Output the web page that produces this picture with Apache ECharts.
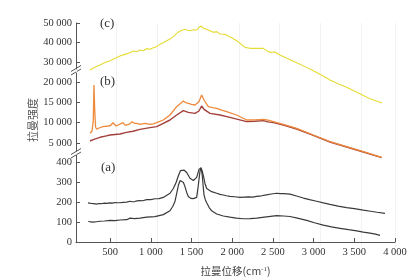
<!DOCTYPE html>
<html><head><meta charset="utf-8">
<script src="https://cdn.jsdelivr.net/npm/echarts@6/dist/echarts.min.js"></script>
<style>html,body{margin:0;padding:0;background:#fff}#c{width:413px;height:279px}</style>
</head><body><div id="c"></div>
<script>
// ---- data (Raman shift cm-1 / intensity) ----
const xTicks = [500,1000,1500,2000,2500,3000,3500,4000];
const yTicksC = [30000,40000,50000];
const yTicksB = [5000,10000,15000,20000];
const yTicksA = [0,100,200,300,400];

const shiftC = [252,300,375,430,498,560,621,680,744,785,826,866,907,948,989,1030,1071,1112,1153,1194,1235,1276,1317,1358,1419,1450,1481,1520,1563,1591,1616,1645,1675,1706,1740,1768,1809,1850,1911,1972,2054,2110,2157,2218,2300,2382,2423,2464,2525,2587,2690,2792,2900,2996,3100,3201,3300,3406,3550,3693,3840];
const intensityC = [25900,27000,28460,29600,30670,31900,33080,33900,34790,35640,35300,36150,35810,36840,36500,37350,37860,39060,39920,40940,41800,43000,44700,45900,46750,46300,46070,46500,46410,47780,48460,47260,46900,46410,45800,45210,45560,44360,44190,42990,40940,39100,37520,37010,37050,37010,35810,34960,35130,33590,31600,29660,27500,25555,23200,20770,18900,17010,14100,11200,8970];

const shiftB1 = [252,277,292,301,310,320,334,370,412,473,505,535,572,596,658,680,707,740,768,800,830,867,928,989,1030,1071,1153,1235,1317,1399,1430,1460,1500,1542,1591,1624,1653,1706,1760,1809,1870,1931,2054,2177,2280,2382,2440,2505,2628,2792,2996,3201,3406,3611,3836];
const intensityB1 = [7385,7950,10500,19260,13115,8934,8370,8750,9008,9180,9300,9992,9180,9426,9992,9400,9426,9700,10238,9850,9844,9590,9836,9590,9700,10000,10656,11885,13935,15328,14900,14754,14500,14344,15164,16803,15574,13935,13700,13525,13100,12705,11885,10656,10700,10820,10600,10246,9590,8606,6967,5328,4098,2868,1475];

const shiftB2 = [252,300,375,440,498,560,621,700,780,867,989,1071,1153,1235,1317,1399,1460,1542,1591,1624,1653,1727,1850,1972,2177,2280,2382,2440,2505,2628,2792,2996,3201,3406,3611,3836];
const intensityB2 = [5492,5900,6402,6700,6967,7100,7213,7600,7900,8360,8770,9016,9836,10656,11885,12951,12541,12295,12869,14098,13279,12295,11885,11311,10246,10350,10492,10200,9999,9426,8443,6885,5246,4016,2786,1393];

const shiftA1 = [227,250,270,300,330,360,390,430,460,498,530,560,590,620,660,703,744,770,800,830,866,900,948,1000,1050,1100,1153,1235,1276,1310,1338,1365,1387,1410,1440,1481,1522,1545,1563,1580,1591,1616,1630,1645,1665,1686,1747,1809,1850,1890,1930,1972,2030,2095,2150,2200,2250,2300,2360,2420,2480,2546,2590,2630,2670,2710,2790,2874,2950,3037,3120,3201,3300,3406,3500,3611,3700,3780,3877];
const intensityA1 = [197.6,196,194,193,191,194,193,196,195,197.6,196,199,198,198,200,201,205.6,203,204,207,208.7,208,213.6,214,218,219,224.9,245.8,269.8,300,334.1,360,369.4,362,350.2,321.2,310,313,326,350,366.2,374.3,358,334.1,295,269.8,253.8,245.8,240,237,233,229.7,228,224.9,226,227,226,229.7,233,238,242,245.8,244,244,243,241,232,221.6,214,205.6,197,189.5,181,173.5,168,160.6,155,150,144.5];

const shiftA2 = [231,260,293,330,375,430,498,560,620,703,744,800,866,948,1050,1153,1235,1270,1297,1320,1338,1360,1379,1400,1420,1440,1460,1490,1522,1563,1583,1604,1616,1625,1632,1642,1653,1670,1686,1715,1747,1809,1890,1972,2050,2136,2220,2300,2420,2546,2630,2710,2800,2915,3010,3119,3220,3324,3430,3529,3610,3693,3760,3816];
const intensityA2 = [104.6,101,99.8,102,104.6,106,109.4,108,111,112.3,120.4,118,120.5,125.3,128,138.1,157.4,180,205.6,250,285.9,310,318,300,278,250,229.7,220,218.4,224.9,285.9,358.2,369.4,355,334.1,285,237.7,212,197.6,175,157.4,141.3,131,125.3,120,117.2,118,120.4,127,133.3,131,128.5,120,109.2,97,85.1,76,69,62,56.2,50,45,40,33.7];

// ---- chart ----
const zip = (xs, ys) => xs.map((x, i) => [x, ys[i]]);
const SERIF = '"Liberation Serif", "DejaVu Serif", serif';
const CJK = '"Noto Sans CJK SC", sans-serif';
const AXC = '#555';
const fmt = v => String(v).replace(/\B(?=(\d{3})+(?!\d))/g, ' ');
const L = 76, R = 18;
const XMIN = 80, XMAX = 4000;

function yAxis(idx, min, max, ticks) {
  return {
    type: 'value', gridIndex: idx, min: min, max: max,
    axisLine: {show: true, lineStyle: {color: AXC, width: 1}},
    axisTick: {show: true, inside: true, length: 4, customValues: ticks, lineStyle: {color: AXC}},
    axisLabel: {customValues: ticks, formatter: fmt, margin: 4, color: '#333', fontFamily: SERIF, fontSize: 10.5},
    splitLine: {show: false}
  };
}
function hiddenX(idx) {
  return {type: 'value', gridIndex: idx, min: XMIN, max: XMAX, show: false};
}

const option = {
  animation: false,
  backgroundColor: '#fff',
  grid: [
    {left: L, right: R, top: 23, bottom: 33},
    {left: L, right: R, top: 23, height: 46},
    {left: L, right: R, top: 73, height: 78.5},
    {left: L, right: R, top: 155, height: 91}
  ],
  xAxis: [
    {type: 'value', gridIndex: 0, min: XMIN, max: XMAX, axisLine: {show: false}, axisTick: {show: false}, axisLabel: {show: false},
     splitLine: {show: true, lineStyle: {color: '#f2f2f2', width: 1}}, interval: 500},
    hiddenX(1), hiddenX(2),
    {type: 'value', gridIndex: 3, min: XMIN, max: XMAX,
     axisLine: {show: true, lineStyle: {color: AXC, width: 1}},
     axisTick: {show: true, inside: true, length: 4, customValues: xTicks, lineStyle: {color: AXC}},
     axisLabel: {customValues: xTicks, formatter: fmt, margin: 5, color: '#333', fontFamily: SERIF, fontSize: 10.5},
     splitLine: {show: false},
     name: '拉曼位移(cm{s|-1})', nameLocation: 'middle', nameGap: 24,
     nameTextStyle: {color: '#444', fontFamily: CJK, fontSize: 10.5,
       rich: {s: {fontSize: 7, verticalAlign: 'top', lineHeight: 8, color: '#444', fontFamily: SERIF, padding: [0,0,5,0]}}}
    }
  ],
  yAxis: [
    {type: 'value', gridIndex: 0, show: false, min: 0, max: 1},
    yAxis(1, 26410, 50000, yTicksC),
    yAxis(2, 2910, 22213, yTicksB),
    yAxis(3, 0, 438.6, yTicksA)
  ],
  series: [
    {type: 'line', xAxisIndex: 1, yAxisIndex: 1, data: zip(shiftC, intensityC), showSymbol: false, clip: false,
     lineStyle: {color: '#e6db35', width: 1.1}},
    {type: 'line', xAxisIndex: 2, yAxisIndex: 2, data: zip(shiftB2, intensityB2), showSymbol: false, clip: false,
     lineStyle: {color: '#a3403b', width: 1.4}},
    {type: 'line', xAxisIndex: 2, yAxisIndex: 2, data: zip(shiftB1, intensityB1), showSymbol: false, clip: false,
     lineStyle: {color: '#ee8a3c', width: 1.3}},
    {type: 'line', xAxisIndex: 3, yAxisIndex: 3, data: zip(shiftA1, intensityA1), showSymbol: false, clip: false,
     lineStyle: {color: '#3a3a3a', width: 1.2}},
    {type: 'line', xAxisIndex: 3, yAxisIndex: 3, data: zip(shiftA2, intensityA2), showSymbol: false, clip: false,
     lineStyle: {color: '#3a3a3a', width: 1.2}}
  ],
  graphic: [
    {type: 'line', shape: {x1: 71, y1: 71.5, x2: 81, y2: 65.5}, style: {stroke: AXC, lineWidth: 1}},
    {type: 'line', shape: {x1: 71, y1: 75, x2: 81, y2: 69}, style: {stroke: AXC, lineWidth: 1}},
    {type: 'line', shape: {x1: 71, y1: 154.5, x2: 81, y2: 148.5}, style: {stroke: AXC, lineWidth: 1}},
    {type: 'line', shape: {x1: 71, y1: 158, x2: 81, y2: 152}, style: {stroke: AXC, lineWidth: 1}},
    {type: 'text', left: 100, top: 17, style: {text: '(c)', font: '13px ' + SERIF, fill: '#333'}},
    {type: 'text', left: 100, top: 75, style: {text: '(b)', font: '13px ' + SERIF, fill: '#333'}},
    {type: 'text', left: 101, top: 161, style: {text: '(a)', font: '13px ' + SERIF, fill: '#333'}},
    {type: 'text', x: 33, y: 120, rotation: Math.PI / 2,
     style: {text: '拉曼强度', font: '11px ' + CJK, fill: '#555', align: 'center', verticalAlign: 'middle'}}
  ]
};
const chart = echarts.init(document.getElementById('c'), null, {renderer: 'canvas'});
chart.setOption(option);
</script>
</body></html>
